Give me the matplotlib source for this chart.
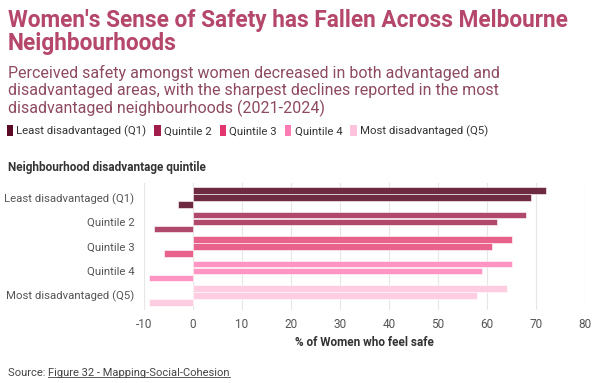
import matplotlib
matplotlib.use("Agg")
import matplotlib.pyplot as plt
from matplotlib.patches import Patch
from matplotlib.lines import Line2D
import numpy as np

plt.rcParams['font.family'] = ['Roboto', 'DejaVu Sans']

categories = ["Least disadvantaged (Q1)", "Quintile 2", "Quintile 3", "Quintile 4", "Most disadvantaged (Q5)"]
safe_2021 = [72, 68, 65, 65, 64]
safe_2024 = [69, 62, 61, 59, 58]
change = [-3, -8, -6, -9, -9]
xticks = [-10, 0, 10, 20, 30, 40, 50, 60, 70, 80]

bar_colors = ["#6e2a41", "#b0486c", "#e8628c", "#ff95c2", "#ffcde2"]
legend_colors = ["#5c0b26", "#a11d4c", "#e3356e", "#ff7db3", "#ffc3dd"]

fig = plt.figure(figsize=(6.0, 3.83), dpi=100)
W, H = 600, 383
ax = fig.add_axes([144 / W, 1 - 310 / H, 441 / W, 127 / H])

y = np.arange(len(categories))
pitch = 0.29
h = 0.27
for i in range(len(categories)):
    c = bar_colors[i]
    ax.barh(y[i] - pitch, safe_2021[i], height=h, color=c, edgecolor="white", linewidth=0.4, zorder=3)
    ax.barh(y[i], safe_2024[i], height=h, color=c, edgecolor="white", linewidth=0.4, zorder=3)
    ax.barh(y[i] + pitch, change[i], height=h, color=c, edgecolor="white", linewidth=0.4, zorder=3)

ax.set_xlim(-10, 80)
ax.set_ylim(4.6, -0.6)
ax.set_xticks(xticks)
ax.set_xticklabels([str(t) for t in xticks])
ax.set_yticks(y)
ax.set_yticklabels(categories)
ax.tick_params(axis='both', length=0, labelsize=8.5, labelcolor="#555555")
ax.tick_params(axis='y', labelsize=8.2, pad=7)
ax.tick_params(axis='x', pad=6)
for s in ax.spines.values():
    s.set_visible(False)
ax.grid(axis='x', color="#e6e6e6", linewidth=0.8, zorder=0)
ax.set_axisbelow(True)
ax.set_xlabel("% of Women who feel safe", fontsize=8.5, fontweight='bold', color="#333333", labelpad=3)

fig.text(8 / W, 1 - 32 / H, "Women's Sense of Safety has Fallen Across Melbourne\nNeighbourhoods",
         fontsize=16.3, fontweight='bold', color="#b5476b", va='center', ha='left', linespacing=1.02)
fig.text(8 / W, 1 - 91 / H,
         "Perceived safety amongst women decreased in both advantaged and\n"
         "disadvantaged areas, with the sharpest declines reported in the most\n"
         "disadvantaged neighbourhoods (2021-2024)",
         fontsize=11.5, color="#8e4a5f", va='center', ha='left', linespacing=1.12)

handles = [Patch(facecolor=legend_colors[i], edgecolor='none', label=categories[i]) for i in range(5)]
fig.legend(handles=handles, loc='center left', bbox_to_anchor=(2 / W, 1 - 131 / H), ncol=5, frameon=False,
           fontsize=8.2, handlelength=0.55, handleheight=1.1, handletextpad=0.3, columnspacing=0.7,
           borderaxespad=0, labelcolor="#333333")

fig.text(8 / W, 1 - 167 / H, "Neighbourhood disadvantage quintile", fontsize=8.5, fontweight='bold',
         color="#333333", va='center', ha='left')

t1 = fig.text(8 / W, 1 - 373 / H, "Source: ", fontsize=8, color="#444444", va='center', ha='left')
fig.canvas.draw()
r = fig.canvas.get_renderer()
bb = t1.get_window_extent(r)
t2 = fig.text(bb.x1 / W, 1 - 373 / H, "Figure 32 - Mapping-Social-Cohesion", fontsize=8, color="#444444",
              va='center', ha='left')
bb2 = t2.get_window_extent(r)
fig.add_artist(Line2D([bb2.x0 / W, bb2.x1 / W], [(bb2.y0 + 1) / H] * 2, color="#444444", linewidth=0.6,
                      transform=fig.transFigure))

fig.savefig("out.png", dpi=100, facecolor="white")
